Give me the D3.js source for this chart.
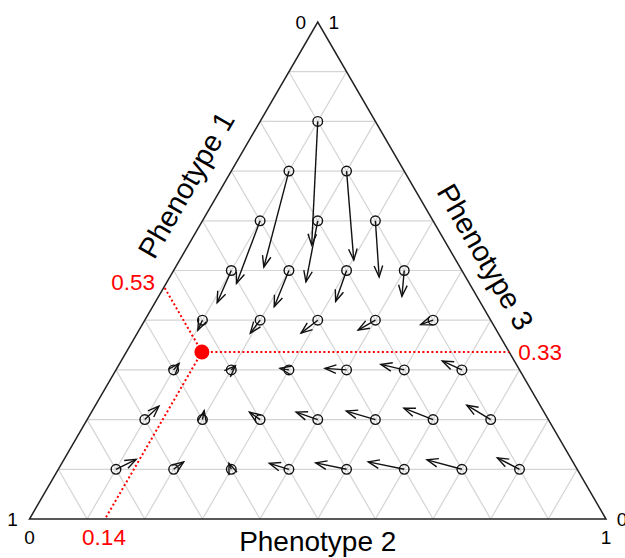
<!DOCTYPE html>
<html lang="en">
<head>
<meta charset="UTF-8">
<title>Phenotype simplex</title>
<script src="https://cdn.jsdelivr.net/npm/d3@7"></script>
<style>
    body { margin: 0; background: #fff; }
    text { font-family: "Liberation Sans", Arial, Helvetica, sans-serif; }
</style>
</head>
<body>
<script>
// grid levels for all three phenotypes
var gridTicks = [0.1, 0.2, 0.3, 0.4, 0.5, 0.6, 0.7, 0.8, 0.9];

// arrow start points (Phenotype 2, Phenotype 3); Phenotype 1 = 1 - p2 - p3
var startP2 = [0.1, 0.2, 0.3, 0.4, 0.5, 0.6, 0.7, 0.8,
               0.1, 0.2, 0.3, 0.4, 0.5, 0.6, 0.7,
               0.1, 0.2, 0.3, 0.4, 0.5, 0.6,
               0.1, 0.2, 0.3, 0.4, 0.5,
               0.1, 0.2, 0.3, 0.4,
               0.1, 0.2, 0.3,
               0.1, 0.2,
               0.1];
var startP3 = [0.1, 0.1, 0.1, 0.1, 0.1, 0.1, 0.1, 0.1,
               0.2, 0.2, 0.2, 0.2, 0.2, 0.2, 0.2,
               0.3, 0.3, 0.3, 0.3, 0.3, 0.3,
               0.4, 0.4, 0.4, 0.4, 0.4,
               0.5, 0.5, 0.5, 0.5,
               0.6, 0.6, 0.6,
               0.7, 0.7,
               0.8];
// arrow end points
var endP2 = [0.125, 0.21, 0.29, 0.36, 0.44, 0.53, 0.63, 0.75,
             0.111, 0.194, 0.274, 0.355, 0.441, 0.538, 0.644,
             0.103, 0.203, 0.283, 0.361, 0.454, 0.557,
             0.102, 0.196, 0.284, 0.380, 0.483,
             0.108, 0.211, 0.312, 0.422,
             0.122, 0.241, 0.363,
             0.153, 0.302,
             0.214];
var endP3 = [0.120, 0.115, 0.112, 0.112, 0.113, 0.115, 0.119, 0.123,
             0.227, 0.218, 0.215, 0.215, 0.217, 0.223, 0.229,
             0.313, 0.308, 0.303, 0.303, 0.311, 0.318,
             0.380, 0.374, 0.374, 0.380, 0.391,
             0.435, 0.427, 0.438, 0.448,
             0.474, 0.477, 0.487,
             0.507, 0.521,
             0.551];

// highlighted point (p1, p2, p3) and its printed values
var focus = [0.533, 0.131, 0.336];
var focusLabels = ["0.53", "0.14", "0.33"];

var width = 625, height = 558;

var svg = d3.select("body").append("svg")
    .attr("width", width)
    .attr("height", height);

var xScale = d3.scaleLinear().domain([0, 1]).range([29.5, 606]);
var yScale = d3.scaleLinear().domain([0, 1]).range([519, 22]);

function pos(p2, p3) {
    return [xScale(p2 + p3 / 2), yScale(p3)];
}

var line = d3.line();

// grid
var grid = svg.append("g")
    .attr("stroke", "#d4d4d4")
    .attr("stroke-width", 1.2)
    .attr("fill", "none");
gridTicks.forEach(function(t) {
    grid.append("path").attr("d", line([pos(0, t), pos(1 - t, t)]));
    grid.append("path").attr("d", line([pos(t, 0), pos(t, 1 - t)]));
    grid.append("path").attr("d", line([pos(1 - t, 0), pos(0, 1 - t)]));
});

// triangle
svg.append("path")
    .attr("d", line([pos(0, 0), pos(1, 0), pos(0, 1)]) + "Z")
    .attr("fill", "none")
    .attr("stroke", "#222")
    .attr("stroke-width", 1.5);

// arrows
var arrows = svg.append("g")
    .attr("stroke", "#111")
    .attr("stroke-width", 1.4)
    .attr("fill", "none");
startP2.forEach(function(d, i) {
    var a = pos(startP2[i], startP3[i]);
    var b = pos(endP2[i], endP3[i]);
    var ang = Math.atan2(b[1] - a[1], b[0] - a[0]);
    var hl = 12, spread = 21 * Math.PI / 180;
    var h1 = [b[0] - hl * Math.cos(ang - spread), b[1] - hl * Math.sin(ang - spread)];
    var h2 = [b[0] - hl * Math.cos(ang + spread), b[1] - hl * Math.sin(ang + spread)];
    arrows.append("path").attr("d", line([a, b]));
    arrows.append("path").attr("d", line([h1, b, h2]));
    arrows.append("circle")
        .attr("cx", a[0]).attr("cy", a[1]).attr("r", 4.8);
});

// focus point and guide lines
var fp = pos(focus[1], focus[2]);
var onLeft = pos(0, 1 - focus[0]);
var onRight = pos(1 - focus[2], focus[2]);
var onBottom = pos(focus[1], 0);
var guides = svg.append("g")
    .attr("stroke", "red")
    .attr("stroke-width", 2)
    .attr("stroke-dasharray", "2,2.5")
    .attr("fill", "none");
guides.append("path").attr("d", line([fp, onLeft]));
guides.append("path").attr("d", line([fp, onRight]));
guides.append("path").attr("d", line([fp, onBottom]));
svg.append("circle")
    .attr("cx", fp[0]).attr("cy", fp[1]).attr("r", 7.5)
    .attr("fill", "red");

svg.append("text").attr("x", onLeft[0] - 9).attr("y", onLeft[1] - 4)
    .attr("text-anchor", "end").attr("dominant-baseline", "central")
    .attr("font-size", 22.5).attr("fill", "red").text(focusLabels[0]);
svg.append("text").attr("x", onBottom[0] - 1).attr("y", onBottom[1] + 18)
    .attr("text-anchor", "middle").attr("dominant-baseline", "central")
    .attr("font-size", 22.5).attr("fill", "red").text(focusLabels[1]);
svg.append("text").attr("x", onRight[0] + 9).attr("y", onRight[1])
    .attr("text-anchor", "start").attr("dominant-baseline", "central")
    .attr("font-size", 22.5).attr("fill", "red").text(focusLabels[2]);

// corner labels
var bl = pos(0, 0), br = pos(1, 0), apex = pos(0, 1);
var corners = [
    [bl[0] - 17, bl[1], "1"], [bl[0], bl[1] + 18, "0"],
    [br[0] + 16, br[1], "0"], [br[0], br[1] + 18, "1"],
    [apex[0] - 17, apex[1], "0"], [apex[0] + 16, apex[1], "1"]
];
svg.selectAll(".corner").data(corners).enter().append("text")
    .attr("class", "corner")
    .attr("x", function(d) { return d[0]; })
    .attr("y", function(d) { return d[1]; })
    .attr("text-anchor", "middle")
    .attr("dominant-baseline", "central")
    .attr("font-size", 19)
    .text(function(d) { return d[2]; });

// axis titles
function edgePoint(a, b, f, off, nx, ny) {
    return [a[0] + (b[0] - a[0]) * f + nx * off, a[1] + (b[1] - a[1]) * f + ny * off];
}
var t1 = edgePoint(bl, apex, 0.64, 32, -0.866, -0.5);
svg.append("text")
    .attr("transform", "translate(" + t1[0] + "," + t1[1] + ") rotate(-60)")
    .attr("text-anchor", "middle").attr("dominant-baseline", "central")
    .attr("font-size", 29).text("Phenotype 1");
var t3 = edgePoint(br, apex, 0.5, 27, 0.866, -0.5);
svg.append("text")
    .attr("transform", "translate(" + t3[0] + "," + t3[1] + ") rotate(60)")
    .attr("text-anchor", "middle").attr("dominant-baseline", "central")
    .attr("font-size", 29).text("Phenotype 3");
svg.append("text")
    .attr("x", xScale(0.5)).attr("y", 551)
    .attr("text-anchor", "middle")
    .attr("font-size", 28).text("Phenotype 2");
</script>
</body>
</html>
